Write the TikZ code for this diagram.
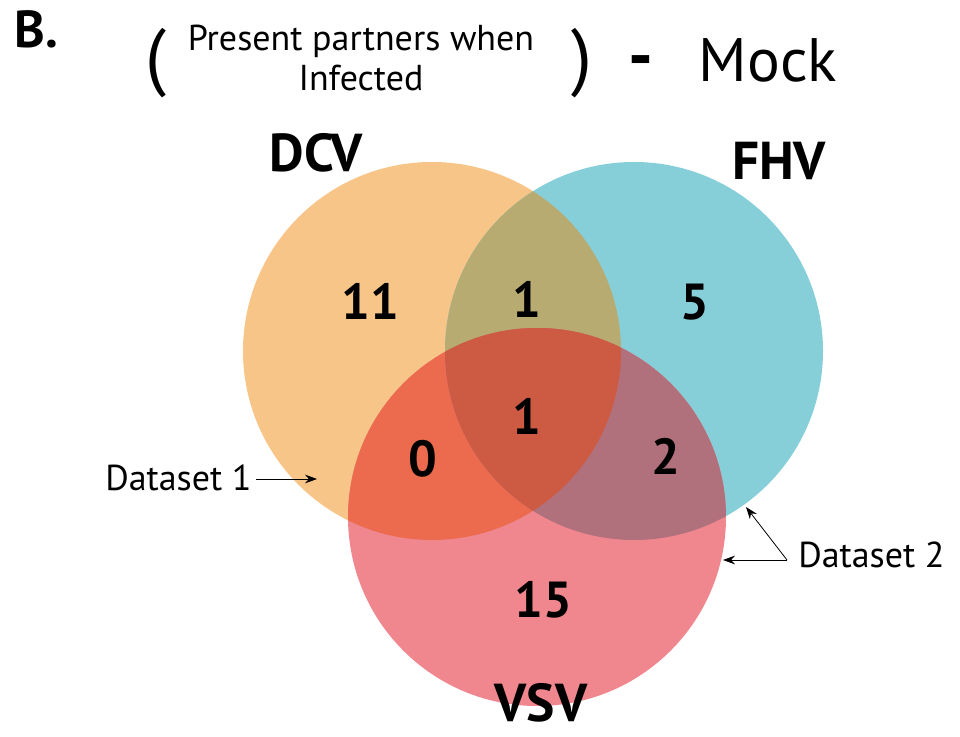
\documentclass[tikz,border=0pt]{standalone}
\usepackage{fontspec}
\setmainfont{PT Sans}
\usetikzlibrary{positioning, arrows.meta}

\definecolor{dcvorange}{HTML}{F8C588}
\definecolor{fhvteal}{HTML}{86CFD9}
\definecolor{vsvpink}{HTML}{F0878F}
\definecolor{dcvfhv}{HTML}{B8AB72}
\definecolor{dcvvsv}{HTML}{EC6B4F}
\definecolor{fhvvsv}{HTML}{B0707C}
\definecolor{allthree}{HTML}{CD5B44}

\begin{document}
\begin{tikzpicture}[x=0.75pt, y=-0.75pt, >={Stealth[length=9pt, width=6.5pt]},
  virus/.style={font=\bfseries\fontsize{40}{40}\selectfont, anchor=base, inner sep=1pt},
  count/.style={font=\bfseries\fontsize{38}{38}\selectfont, anchor=base},
  note/.style={font=\fontsize{27}{30}\selectfont}]
  \useasboundingbox (0, 0) rectangle (960, 737);
  \def\radius{141.75pt}
  \coordinate (D) at (432, 351);
  \coordinate (F) at (634, 351);
  \coordinate (V) at (537, 517);
  % circles
  \fill[dcvorange] (D) circle (\radius);
  \fill[fhvteal] (F) circle (\radius);
  \fill[vsvpink] (V) circle (\radius);
  \begin{scope}
    \clip (D) circle (\radius);
    \fill[dcvfhv] (F) circle (\radius);
    \fill[dcvvsv] (V) circle (\radius);
  \end{scope}
  \begin{scope}
    \clip (F) circle (\radius);
    \fill[fhvvsv] (V) circle (\radius);
    \clip (D) circle (\radius);
    \fill[allthree] (V) circle (\radius);
  \end{scope}
  % title
  \node[font=\bfseries\fontsize{39}{39}\selectfont, anchor=base west] (panel) at (10, 48) {B.};
  \node[note, align=center] (cond) at (361, 58) {Present partners when\\Infected};
  \node[font=\fontsize{56}{56}\selectfont, anchor=base] (lpar) at (156, 82) {(};
  \node[font=\fontsize{56}{56}\selectfont, anchor=base] (rpar) at (582, 82) {)};
  \node[font=\bfseries\fontsize{52}{52}\selectfont, anchor=base] (minus) at (641, 80) {-};
  \node[font=\fontsize{46}{46}\selectfont, anchor=base] (mock) at (768, 82) {Mock};
  % labels
  \node[virus] (dcv) at (316, 172) {DCV};
  \node[virus] (fhv) at (779, 180) {FHV};
  \node[virus] (vsv) at (541, 721) {VSV};
  % counts
  \node[count] (onlyD) at (370, 320) {11};
  \node[count] (onlyF) at (695, 320) {5};
  \node[count] (onlyV) at (543, 617) {15};
  \node[count] (DF) at (527, 318) {1};
  \node[count] (DV) at (423, 477) {0};
  \node[count] (FV) at (666, 475) {2};
  \node[count] (DFV) at (527, 435) {1};
  % datasets
  \node[note, anchor=base west, inner sep=0pt] (ds1) at (105, 491) {Dataset 1};
  \coordinate (ds1tip) at (317, 479);
  \draw[->, semithick] (ds1.east |- ds1tip) ++(4, 0) coordinate (ds1tail) (ds1tail) -- (ds1tip);
  \node[note, anchor=base west, inner sep=0pt] (ds2) at (798, 567) {Dataset 2};
  \coordinate (fork) at (787, 560);
  \coordinate (ds2tipA) at (723, 560);
  \coordinate (ds2tipB) at (746, 507);
  \draw[->, semithick] (fork) -- (ds2tipA);
  \draw[->, semithick] (fork) -- (ds2tipB);
\end{tikzpicture}
\end{document}
